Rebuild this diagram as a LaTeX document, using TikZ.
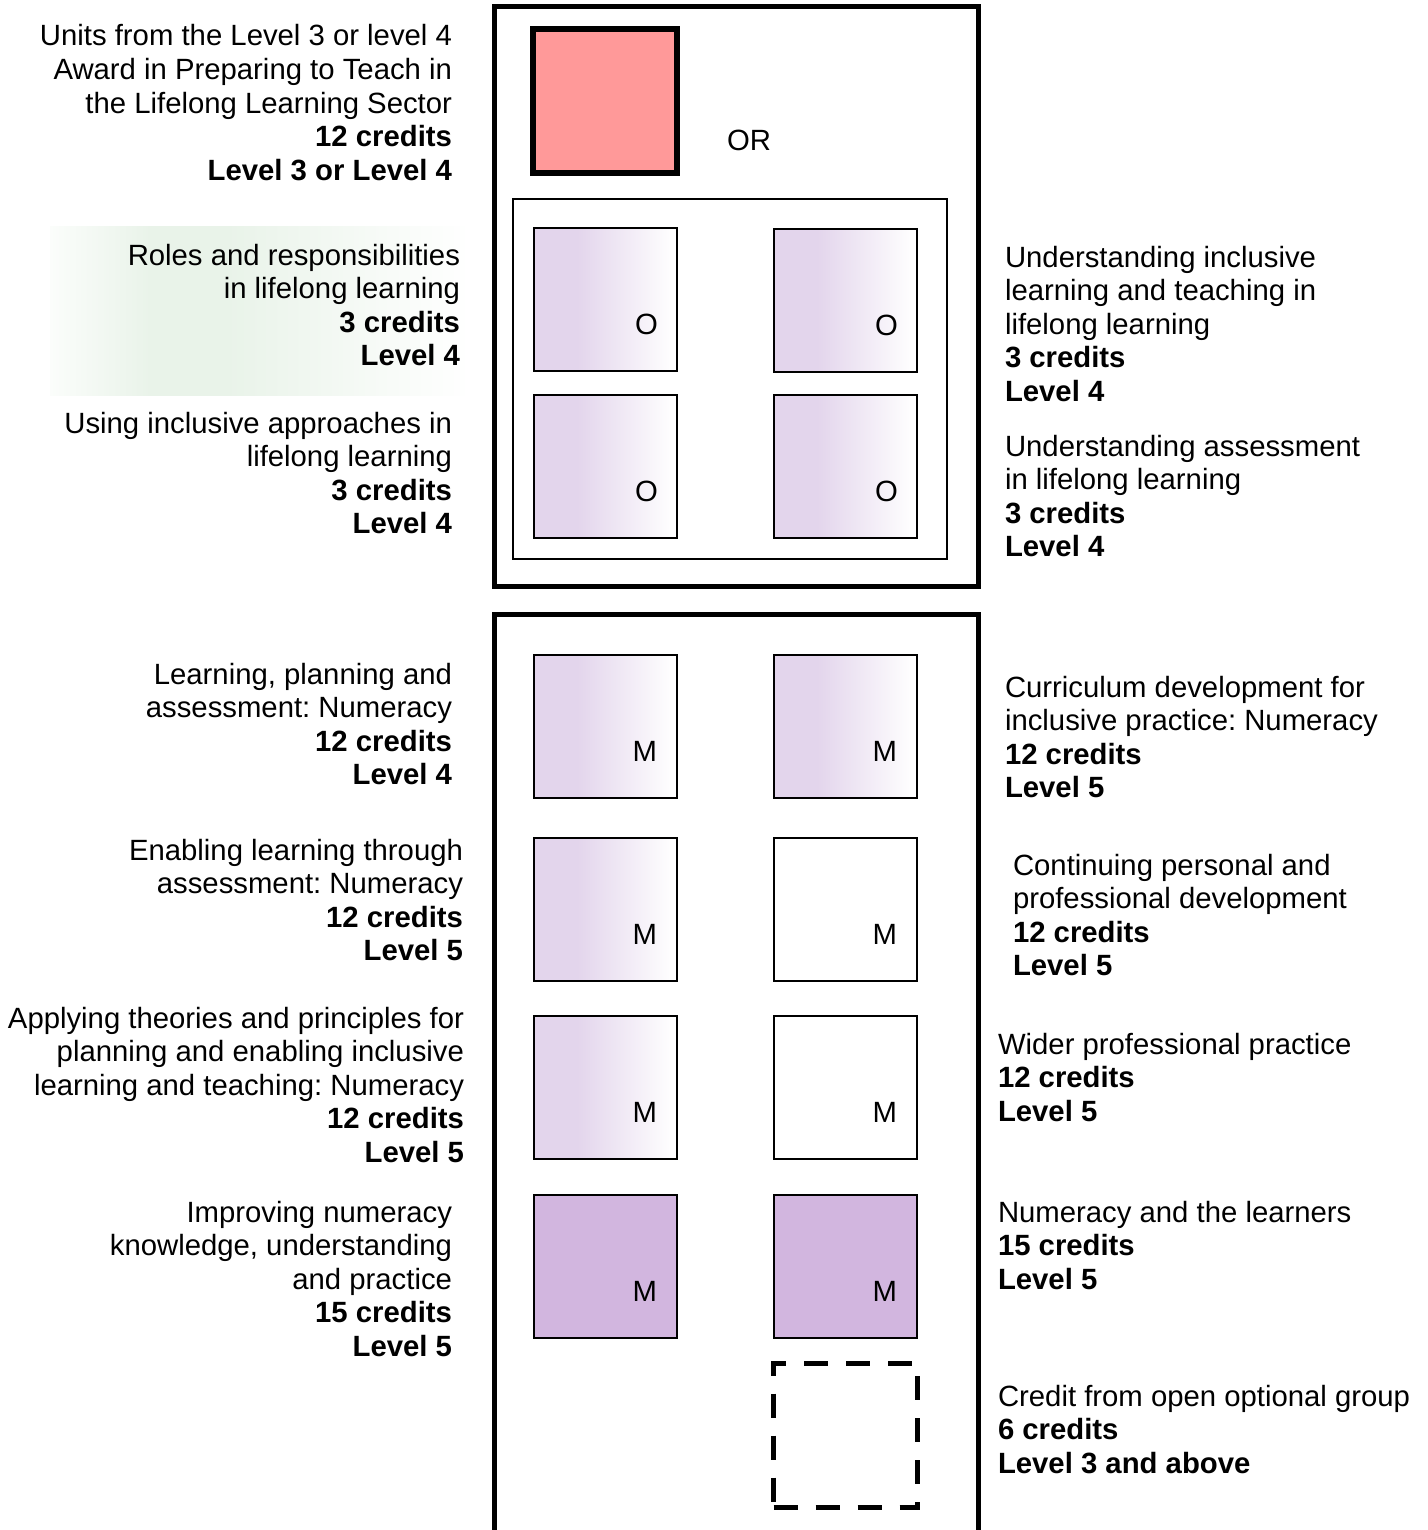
\documentclass[tikz,border=0pt]{standalone}
\usepackage{fontspec}
\setmainfont{Liberation Sans}
\usetikzlibrary{calc}
\frenchspacing

\definecolor{pinkfill}{HTML}{FF9999}
\definecolor{lilac}{HTML}{E3D5EC}
\definecolor{lilacdeep}{HTML}{D2B6DF}
\definecolor{mintfade}{HTML}{E9F3E9}
\definecolor{mintedge}{HTML}{FBFDFB}

% soft green band behind one of the left-hand captions
\pgfdeclarehorizontalshading{mintband}{100bp}{color(0bp)=(mintedge); color(25bp)=(mintedge); color(37bp)=(mintfade); color(46bp)=(mintfade); color(75bp)=(white); color(100bp)=(white)}
% lilac that holds for a while, then fades out to the right
\pgfdeclarehorizontalshading{lilacfade}{100bp}{color(0bp)=(lilac); color(25bp)=(lilac); color(40bp)=(lilac); color(74bp)=(white); color(100bp)=(white)}

% keeps the top of every caption one fixed height above its first baseline
\newcommand\hdstrut{\rule{0pt}{24pt}}

\begin{document}
\begin{tikzpicture}[x=1pt,y=-1pt,
  every node/.style={inner sep=0pt, outer sep=0pt},
  txt/.style={font=\fontsize{29.3}{33.6}\selectfont},
  lefttext/.style={txt, anchor=north east, align=right},
  righttext/.style={txt, anchor=north west, align=left},
  unitbox/.style={draw, line width=2pt, minimum width=143pt, minimum height=143pt},
  fadebox/.style={unitbox, shading=lilacfade},
  solidbox/.style={unitbox, fill=lilacdeep},
  plainbox/.style={unitbox, fill=white},
  tag/.style={txt, anchor=east},
  frame/.style={draw, line width=5pt},
]
\useasboundingbox (0,0) rectangle (1427,1530);

% ---------- background band ----------
\node[minimum width=420pt, minimum height=168pt, shading=mintband] (band) at (260,311) {};

% ---------- upper group ----------
\node[frame, minimum width=484pt, minimum height=579pt] (upper) at (736,296.5) {};
\node[draw, line width=6pt, fill=pinkfill, minimum width=144pt, minimum height=144pt] (award) at (605,101) {};
\node[txt] (or) at (749,140) {OR};
\node[draw, line width=1.5pt, minimum width=434pt, minimum height=360pt] (optgroup) at (730,379) {};

\node[fadebox] (o1) at (605.5,299.5) {};
\node[fadebox] (o2) at (845.5,300.5) {};
\node[fadebox] (o3) at (605.5,466.5) {};
\node[fadebox] (o4) at (845.5,466.5) {};
\foreach \b in {o1,o2,o3,o4}
  \node[tag] (\b-tag) at ($(\b.north east)+(-19,96)$) {O};

% ---------- lower group (runs off the bottom edge) ----------
\coordinate (lowbl) at (494,1545);
\coordinate (lowtr) at (978,614);
\coordinate (lowbr) at (978,1545);
\draw[line width=5pt] (lowbl) |- (lowtr) -- (lowbr);

\node[fadebox]  (m1) at (605.5,726.5) {};
\node[fadebox]  (m2) at (845.5,726.5) {};
\node[fadebox]  (m3) at (605.5,909.5) {};
\node[plainbox] (m4) at (845.5,909.5) {};
\node[fadebox]  (m5) at (605.5,1087.5) {};
\node[plainbox] (m6) at (845.5,1087.5) {};
\node[solidbox] (m7) at (605.5,1266.5) {};
\node[solidbox] (m8) at (845.5,1266.5) {};
\foreach \b in {m1,m2,m3,m4,m5,m6,m7,m8}
  \node[tag] (\b-tag) at ($(\b.north east)+(-20,96)$) {M};

\node[draw, line width=5pt, dash pattern=on 24pt off 18pt, minimum width=144pt, minimum height=144pt] (open) at (845.5,1435.5) {};

% ---------- captions, left side ----------
\node[lefttext] (c-award) at (452,22) {\hdstrut Units from the Level 3 or level 4\\Award in Preparing to Teach in\\the Lifelong Learning Sector\\\textbf{12 credits}\\\textbf{Level 3 or Level 4}};
\node[lefttext] (c-o1) at (460,241) {\hdstrut Roles and responsibilities\\in lifelong learning\\\textbf{3 credits}\\\textbf{Level 4}};
\node[lefttext] (c-o3) at (452,409) {\hdstrut Using inclusive approaches in\\lifelong learning\\\textbf{3 credits}\\\textbf{Level 4}};
\node[lefttext] (c-m1) at (452,660) {\hdstrut Learning, planning and\\assessment: Numeracy\\\textbf{12 credits}\\\textbf{Level 4}};
\node[lefttext] (c-m3) at (463,836) {\hdstrut Enabling learning through\\assessment: Numeracy\\\textbf{12 credits}\\\textbf{Level 5}};
\node[lefttext] (c-m5) at (464,1004) {\hdstrut Applying theories and principles for\\planning and enabling inclusive\\learning and teaching: Numeracy\\\textbf{12 credits}\\\textbf{Level 5}};
\node[lefttext] (c-m7) at (452,1198) {\hdstrut Improving numeracy\\knowledge, understanding\\and practice\\\textbf{15 credits}\\\textbf{Level 5}};

% ---------- captions, right side ----------
\node[righttext] (c-o2) at (1005,243) {\hdstrut Understanding inclusive\\learning and teaching in\\lifelong learning\\\textbf{3 credits}\\\textbf{Level 4}};
\node[righttext] (c-o4) at (1005,432) {\hdstrut Understanding assessment\\in lifelong learning\\\textbf{3 credits}\\\textbf{Level 4}};
\node[righttext] (c-m2) at (1005,673) {\hdstrut Curriculum development for\\inclusive practice: Numeracy\\\textbf{12 credits}\\\textbf{Level 5}};
\node[righttext] (c-m4) at (1013,851) {\hdstrut Continuing personal and\\professional development\\\textbf{12 credits}\\\textbf{Level 5}};
\node[righttext] (c-m6) at (998,1030) {\hdstrut Wider professional practice\\\textbf{12 credits}\\\textbf{Level 5}};
\node[righttext] (c-m8) at (998,1198) {\hdstrut Numeracy and the learners\\\textbf{15 credits}\\\textbf{Level 5}};
\node[righttext] (c-open) at (998,1382) {\hdstrut Credit from open optional group\\\textbf{6 credits}\\\textbf{Level 3 and above}};
\end{tikzpicture}
\end{document}
